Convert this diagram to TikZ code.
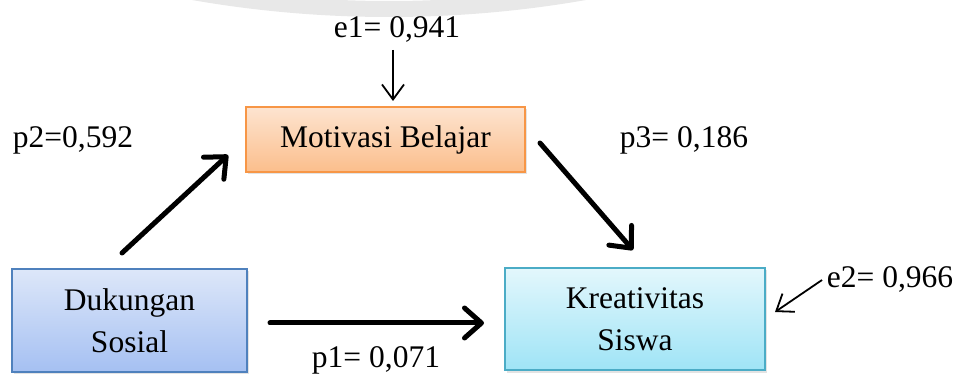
\documentclass[tikz,border=0pt]{standalone}
\usepackage{fontspec}
\setmainfont{Liberation Serif}
\usetikzlibrary{arrows.meta,shadows}
\definecolor{ringgray}{HTML}{E8E8E8}
\definecolor{orangeline}{HTML}{F79646}
\definecolor{orangetop}{HTML}{FDE4D0}
\definecolor{orangebot}{HTML}{FBBE8C}
\definecolor{blueline}{HTML}{4F81BD}
\definecolor{bluetop}{HTML}{DDE7F9}
\definecolor{bluebot}{HTML}{A5C0F2}
\definecolor{cyanline}{HTML}{4BACC6}
\definecolor{cyantop}{HTML}{E3F7FC}
\definecolor{cyanbot}{HTML}{9FE4F6}
\tikzset{
  lbl/.style={font=\fontsize{31.5}{42}\selectfont, anchor=base, inner sep=0pt},
  box/.style={draw, line width=1.5pt, align=center, inner sep=0pt,
    font=\fontsize{31.5}{42}\selectfont,
    drop shadow={opacity=0.22, shadow xshift=2pt, shadow yshift=-2.5pt}},
  thickarrow/.style={line width=5pt, line cap=round,
    -{Straight Barb[length=17pt,width=30pt,round]}},
  thinarrow/.style={line width=1.8pt,
    -{Straight Barb[length=15pt,width=22pt]}}
}
\begin{document}
\begin{tikzpicture}[x=1pt,y=-1pt]
\useasboundingbox (0,0) rectangle (962,374);
% watermark ring segment
\begin{scope}
\clip (0,0) rectangle (962,374);
\fill[ringgray, even odd rule] (389,-1121) circle[radius=1138] (389,-1121) circle[radius=1122];
\end{scope}
% boxes
\node[box, draw=orangeline, top color=orangetop, bottom color=orangebot,
  minimum width=279pt, minimum height=65pt] (MB) at (385.5,139.5) {Motivasi Belajar};
\node[box, draw=blueline, top color=bluetop, bottom color=bluebot,
  minimum width=235pt, minimum height=103pt] (DS) at (129.5,320.5) {Dukungan\\Sosial};
\node[box, draw=cyanline, top color=cyantop, bottom color=cyanbot,
  minimum width=260pt, minimum height=102pt] (KS) at (635,319) {Kreativitas\\Siswa};
% labels
\node[lbl] (e1) at (397,38) {e1= 0,941};
\node[lbl] (p2) at (73,148) {p2=0,592};
\node[lbl] (p3) at (684,148) {p3= 0,186};
\node[lbl] (p1) at (376,367) {p1= 0,071};
\node[lbl] (e2) at (890,288) {e2= 0,966};
% connector end points
\coordinate (p2s) at (122,253);
\coordinate (p2e) at (228,155);
\coordinate (p3s) at (540,143);
\coordinate (p3e) at (633,250);
\coordinate (p1s) at (270,323);
\coordinate (p1e) at (484,323);
\coordinate (e1s) at (393,50);
\coordinate (e1e) at (393,101);
\coordinate (e2s) at (822,280);
\coordinate (e2e) at (775,312);
% connectors
\draw[thickarrow] (p2s) -- (p2e);
\draw[thickarrow] (p3s) -- (p3e);
\draw[thickarrow] (p1s) -- (p1e);
\draw[thinarrow] (e1s) -- (e1e);
\draw[thinarrow] (e2s) -- (e2e);
\end{tikzpicture}
\end{document}
